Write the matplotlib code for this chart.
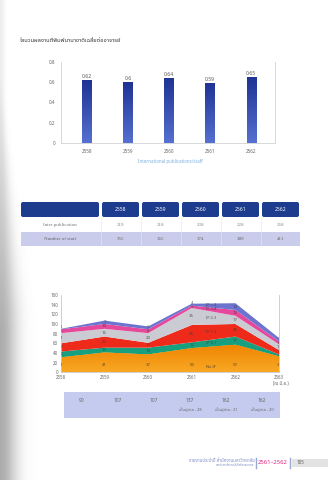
import numpy as np
import matplotlib.pyplot as plt
from matplotlib.patches import Rectangle, FancyBboxPatch
from matplotlib.colors import LinearSegmentedColormap

plt.rcParams['font.family'] = ['Noto Sans Thai', 'Noto Sans', 'DejaVu Sans']

# bar chart + table
years = ['2558', '2559', '2560', '2561', '2562']
ratio = [0.62, 0.6, 0.64, 0.59, 0.65]
inter_pub = [219, 218, 238, 228, 268]
staff = [355, 365, 374, 389, 411]

# stacked area chart
area_years = ['2558', '2559', '2560', '2561', '2562', '2563']
no_if = [31, 41, 37, 50, 57, 33]
if_0_1 = [12, 10, 14, 12, 17, 4]
if_1_2 = [17, 23, 10, 36, 26, 9]
if_2_3 = [21, 16, 20, 35, 17, 12]
if_3_4 = [8, 10, 8, 5, 12, 6]
if_4 = [1, 7, 6, 4, 14, 7]
layer_names = ['No IF', 'IF 0-1', 'IF 1-2', 'IF 2-3', 'IF 3-4', 'IF > 4']
totals_row = ['90', '107', '107', '137', '162', '162']
notes_row = ['', '', '', 'เป็นผู้ช่วย - 28', 'เป็นผู้ช่วย - 21', 'เป็นผู้ช่วย - 20']

W, H = 328, 480
fig = plt.figure(figsize=(W / 100, H / 100), dpi=100)


def box(l, t, r, b):
    return [l / W, 1 - b / H, (r - l) / W, (b - t) / H]


page = fig.add_axes([0, 0, 1, 1])
page.axis('off')

# binding shadow on the left edge
yy, xx = np.mgrid[0:H, 0:40]
strength = 0.12 + 0.42 * np.clip((yy - 80) / 250, 0, 1)
spread = 4 + 12 * np.clip((yy - 110) / 200, 0, 1)
shade = np.zeros((H, 40, 4))
shade[..., :3] = 0.4
shade[..., 3] = strength * np.exp(-(xx / spread) ** 2)
page.imshow(shade, extent=(0, 40, H, 0), aspect='auto', zorder=0)
page.set_xlim(0, W)
page.set_ylim(H, 0)

page.text(20, 40, 'จำนวนผลงานตีพิมพ์นานาชาติเฉลี่ยต่ออาจารย์', fontsize=4,
          color='#333333', va='center')

# ---- bar chart
ax1 = fig.add_axes(box(61, 62, 275, 143))
x = np.arange(len(years))
bars = ax1.bar(x, ratio, width=0.22, color='#2e46a8', zorder=2)
blues = LinearSegmentedColormap.from_list('b', ['#5570d0', '#1f3494'])
grad = np.linspace(0, 1, 50).reshape(-1, 1)
for b in bars:
    im = ax1.imshow(grad, cmap=blues, origin='lower', aspect='auto', zorder=3,
                    extent=(b.get_x(), b.get_x() + b.get_width(), 0, b.get_height()))
    im.set_clip_path(b)
for i, v in enumerate(ratio):
    ax1.text(i, v + 0.008, str(v), ha='center', va='bottom', fontsize=3.6, color='#555555')
ax1.set_xlim(-0.634, 4.585)
ax1.set_ylim(0, 0.8)
ax1.set_xticks(x)
ax1.set_xticklabels(years)
ax1.set_yticks([0, 0.2, 0.4, 0.6, 0.8])
ax1.set_yticklabels(['0', '0.2', '0.4', '0.6', '0.8'])
ax1.tick_params(length=0, labelsize=3.3, labelcolor='#666666', pad=4)
ax1.spines['top'].set_visible(False)
for s in ['left', 'bottom', 'right']:
    ax1.spines[s].set_color('#d2d2d2')
    ax1.spines[s].set_linewidth(0.6)
ax1.patch.set_alpha(0)

page.text(170, 162, 'International publications/staff', ha='center', va='center',
          fontsize=3.2, color='#7fb0e0')

# ---- table
page.add_patch(FancyBboxPatch((21, 202), 78, 15, boxstyle='round,pad=0,rounding_size=2',
                              fc='#1e3c8e', ec='none'))
page.add_patch(Rectangle((21, 218), 279, 14, fc='white', ec='none'))
page.add_patch(Rectangle((21, 232), 279, 14, fc='#c9cdeb', ec='none'))
serif = ['Liberation Serif', 'DejaVu Serif']
page.text(60, 225, 'Inter publication', ha='center', va='center', fontsize=3.6,
          color='#777777', family=serif)
page.text(60, 239, 'Number of staff', ha='center', va='center', fontsize=3.6,
          color='#666666', family=serif)
for i, yr in enumerate(years):
    l = 102 + 40 * i
    page.add_patch(FancyBboxPatch((l, 202), 37, 15, boxstyle='round,pad=0,rounding_size=2',
                                  fc='#1e3c8e', ec='none'))
    page.text(l + 18.5, 209.5, yr, ha='center', va='center', fontsize=3.6,
              color='white', weight='bold')
    page.text(l + 18.5, 225, str(inter_pub[i]), ha='center', va='center', fontsize=3.6,
              color='#888888', family=serif)
    page.text(l + 18.5, 239, str(staff[i]), ha='center', va='center', fontsize=3.6,
              color='#666666', family=serif)
    page.plot([l - 1.5, l - 1.5], [218, 246], color='#e6e6ee', lw=0.4)

# ---- stacked area chart
ax2 = fig.add_axes(box(61, 295, 279, 372.3))
xs = np.arange(len(area_years))
layers = [no_if, if_0_1, if_1_2, if_2_3, if_3_4, if_4]
colors = ['#f39200', '#17a07f', '#ee2a1b', '#cbcbd3', '#e6489b', '#6d74cf']
polys = ax2.stackplot(xs, layers, colors=colors, lw=0)
oranges = LinearSegmentedColormap.from_list('o', ['#f8a824', '#f08400'])
og = ax2.imshow(np.linspace(0, 1, 50).reshape(-1, 1), cmap=oranges, origin='lower',
                aspect='auto', extent=(0, 5, 0, max(no_if)), zorder=2)
og.set_clip_path(polys[0].get_paths()[0], ax2.transData)
ax2.set_xlim(0, 5)
ax2.set_ylim(0, 160)

cum = np.cumsum(np.array(layers), axis=0)
last = np.zeros(len(xs))
last_name = 0
for i, vals in enumerate(layers):
    for j, v in enumerate(vals):
        if i == 0:
            ypos = 15
        else:
            ypos = max(cum[i - 1][j] + v / 2, last[j] + 8.5)
        last[j] = ypos
        ax2.text(j, ypos, str(v), ha='center', va='center', fontsize=3.1,
                 color='#3a3a3a', alpha=0.8, clip_on=True, zorder=4)
    if i == 0:
        ly = 11
    else:
        lo = np.interp(3.44, xs, cum[i - 1])
        hi = np.interp(3.44, xs, cum[i])
        ly = max((lo + hi) / 2, last_name + 8.5)
    last_name = ly
    ax2.text(3.44, ly, layer_names[i], ha='center', va='center', fontsize=2.9,
             color='#3a3a3a', alpha=0.8, zorder=4)

ax2.set_xticks(xs)
ax2.set_xticklabels(area_years)
ax2.set_yticks(range(0, 161, 20))
ax2.tick_params(length=0, labelsize=3.2, labelcolor='#666666', pad=2)
ax2.spines['top'].set_visible(False)
for s in ['left', 'bottom', 'right']:
    ax2.spines[s].set_color('#c8c8c8')
    ax2.spines[s].set_linewidth(0.6)
ax2.patch.set_alpha(0)
page.text(281, 384, '(ณ มิ.ย.)', ha='center', va='center', fontsize=3.2, color='#666666')

# ---- totals box under the area chart
page.add_patch(Rectangle((64, 392), 216, 26, fc='#c5cbee', ec='none'))
for i, t in enumerate(totals_row):
    cx = 82 + 36 * i
    page.text(cx, 400, t, ha='center', va='center', fontsize=3.5, color='#666666')
    if notes_row[i]:
        page.text(cx, 410, notes_row[i], ha='center', va='center', fontsize=2.8,
                  color='#666666')

# ---- footer
page.text(254.5, 460.5, 'รายงานประจำปี สำนักงานมหาวิทยาลัย', ha='right', va='center',
          fontsize=3.2, color='#7d8fc6')
page.text(254.5, 465, 'มหาวิทยาลัยเทคโนโลยีราชมงคล', ha='right', va='center',
          fontsize=2.2, color='#7d8fc6')
page.plot([256, 256], [458, 468], color='#9aa8d6', lw=1)
page.text(272.5, 463, '2561–2562', ha='center', va='center', fontsize=4.2,
          color='#e0207a', weight='bold')
page.plot([289.5, 289.5], [458, 468], color='#9aa8d6', lw=1)
page.add_patch(Rectangle((292, 459), 36, 8, fc='#e3e3e3', ec='none'))
page.text(297, 463, '105', ha='left', va='center', fontsize=3.2, color='#555555')

fig.savefig('out.png', dpi=100)
